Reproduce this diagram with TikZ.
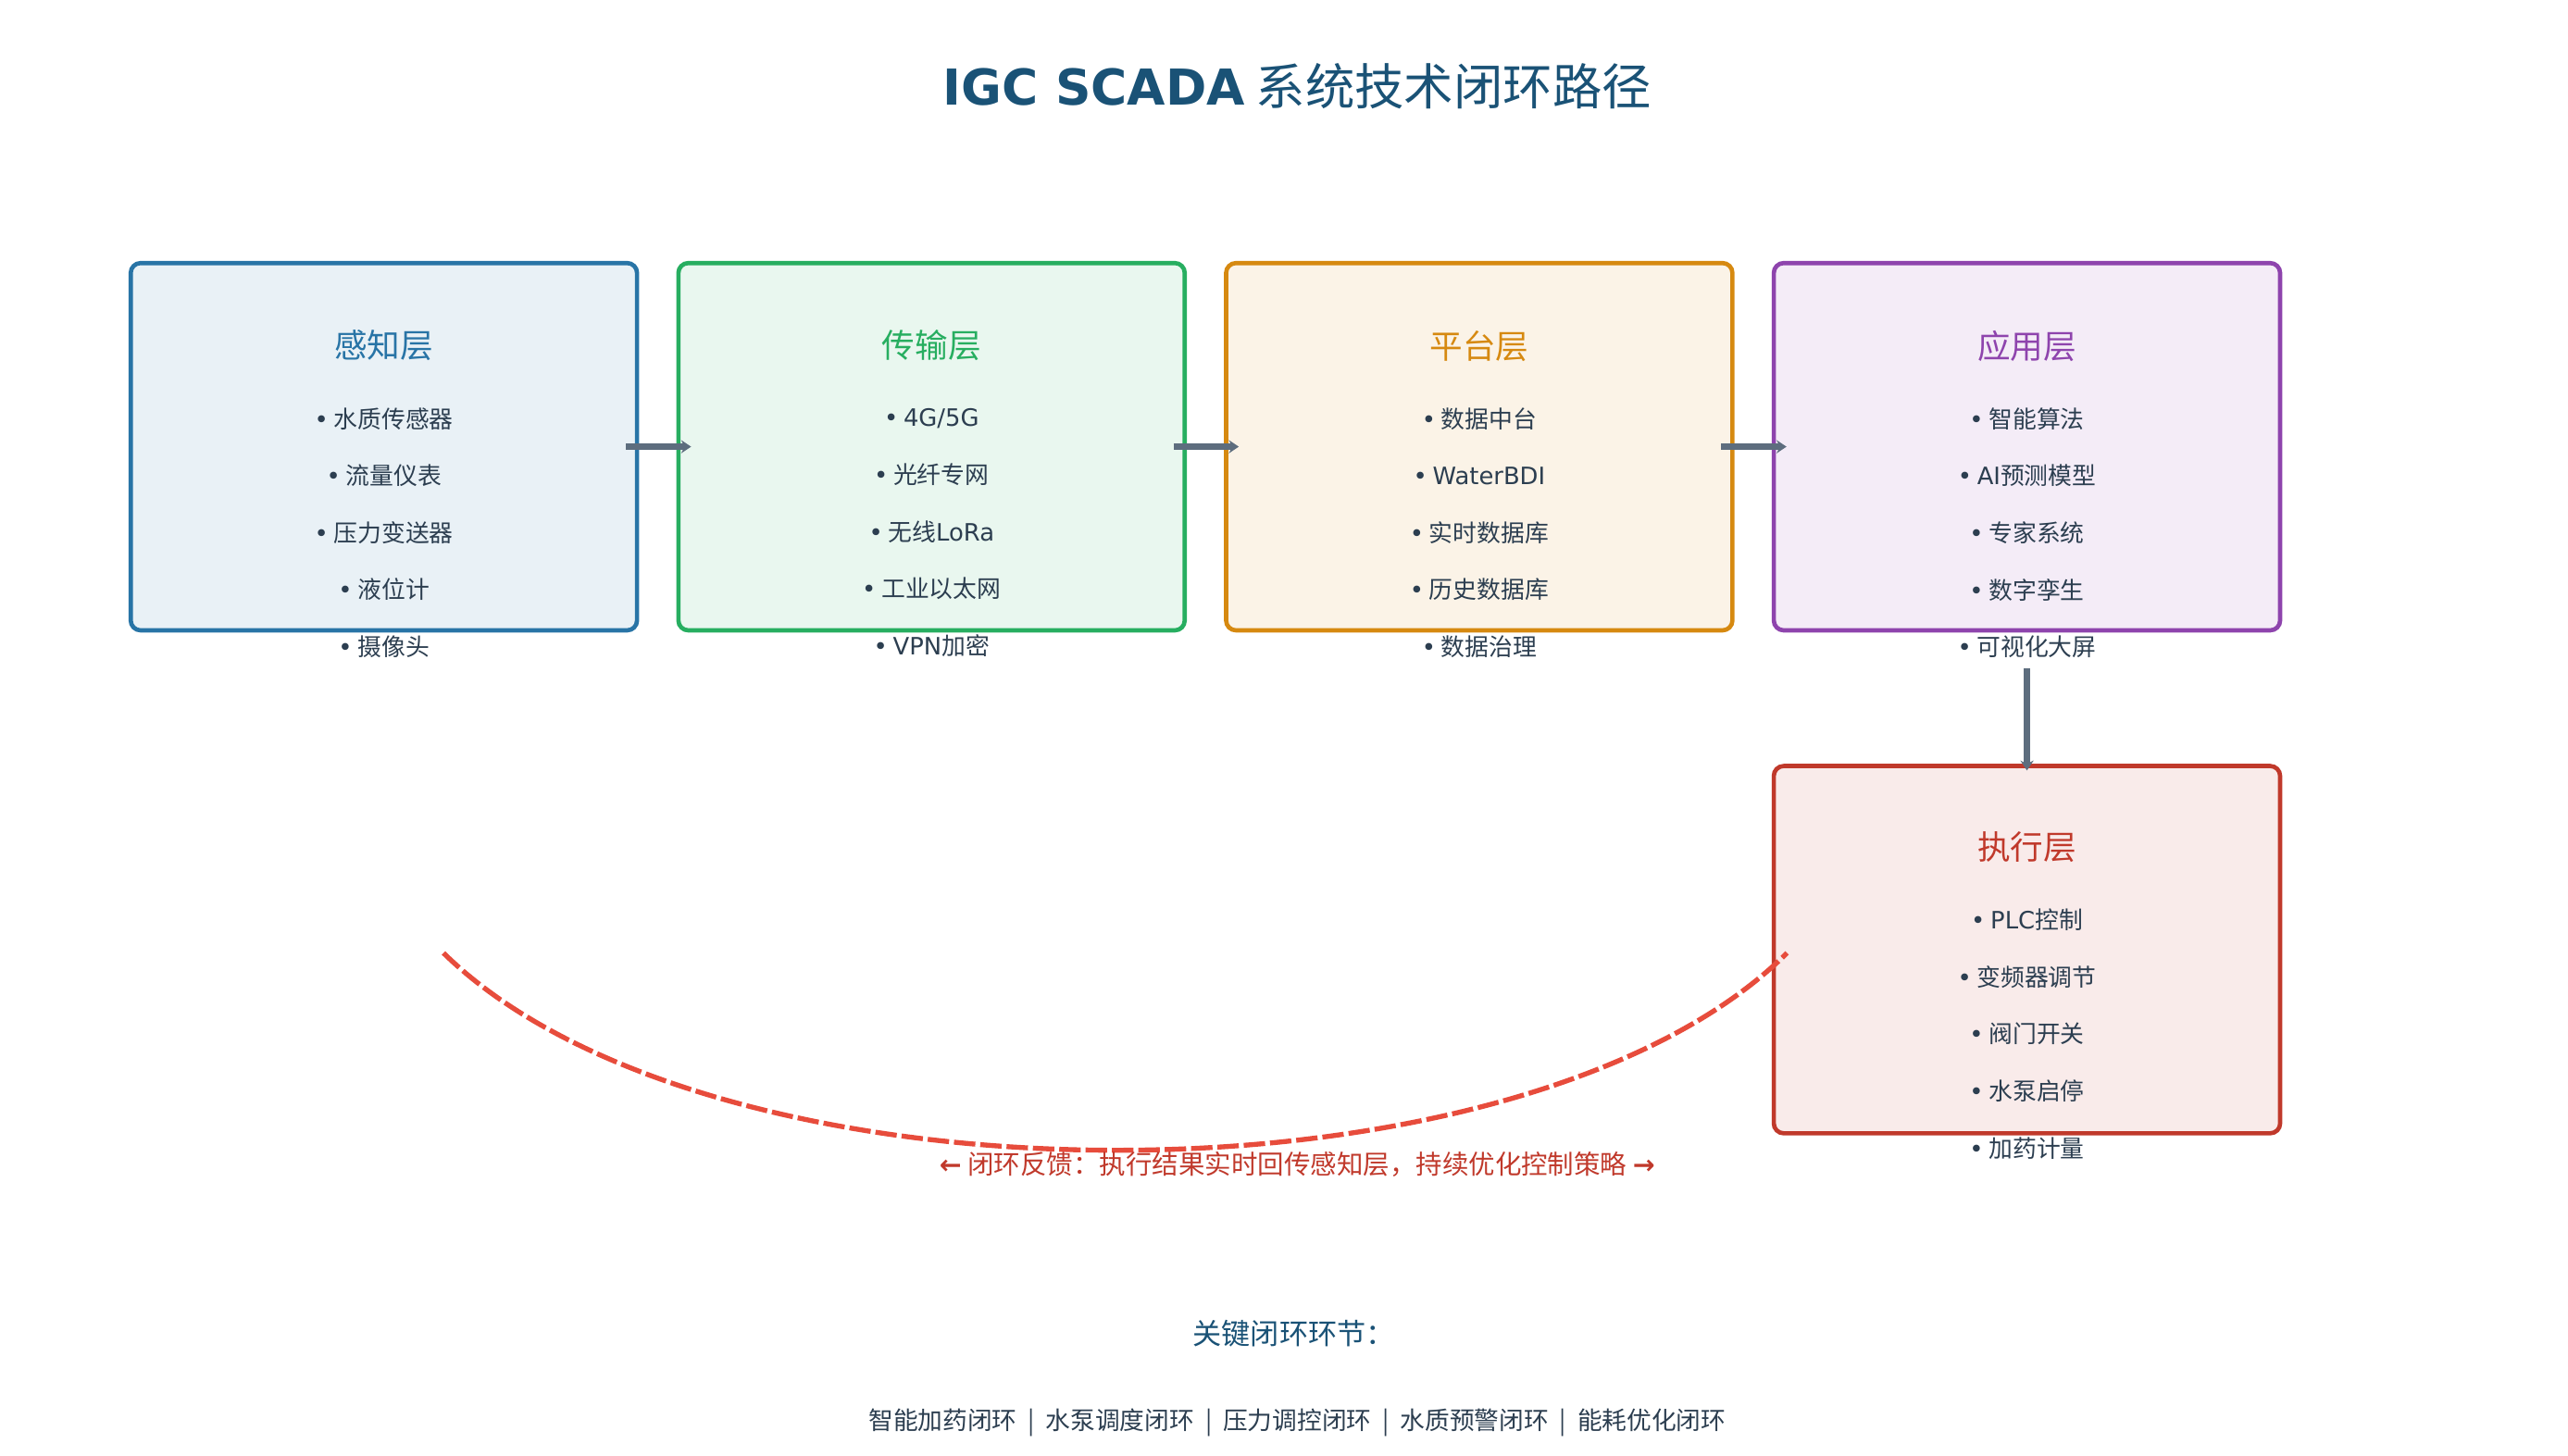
\documentclass[tikz,border=0pt]{standalone}
\usepackage{fontspec}
\setmainfont{Noto Sans CJK SC}
\newfontfamily\dvs{DejaVu Sans}
\usetikzlibrary{arrows.meta}
\definecolor{txt}{HTML}{2C3E50}
\definecolor{ttl}{HTML}{1A5276}
\definecolor{arr}{HTML}{5D6D7E}
\definecolor{fb}{HTML}{E74C3C}
\newcommand{\bul}{{\dvs •}\ }
\begin{document}
\begin{tikzpicture}[x=1bp,y=-1bp,
                layer/.style={draw=#1, fill=#1!10, line width=2.6pt, rounded corners=6pt, minimum width=306bp, minimum height=222bp},
                head/.style={text=#1, font=\fontsize{20}{24}\selectfont},
                items/.style={text=txt, align=center, font=\fontsize{14.5}{34.6}\selectfont},
                flow/.style={draw=arr, line width=3.5pt, -{Stealth[length=6pt,width=8pt]}}]
                \useasboundingbox (0,0) rectangle (1552,880);
                \definecolor{sense}{HTML}{2874A6}
                \definecolor{trans}{HTML}{27AE60}
                \definecolor{plat}{HTML}{D68910}
                \definecolor{appl}{HTML}{8E44AD}
                \definecolor{exec}{HTML}{C0392B}
                \node[font=\fontsize{30}{36}\selectfont, text=ttl] (title) at (784,52) {{\dvs\bfseries IGC SCADA} 系统技术闭环路径};
                \node[layer=sense] (b1) at (232,270) {};
                \node[layer=trans] (b2) at (563,270) {};
                \node[layer=plat] (b3) at (894,270) {};
                \node[layer=appl] (b4) at (1225,270) {};
                \node[layer=exec] (b5) at (1225,574) {};
                \node[head=sense] (h1) at (232,209) {感知层};
                \node[head=trans] (h2) at (563,209) {传输层};
                \node[head=plat] (h3) at (894,209) {平台层};
                \node[head=appl] (h4) at (1225,209) {应用层};
                \node[head=exec] (h5) at (1225,512) {执行层};
                \node[items] (l1) at (232,322) {\bul 水质传感器\\\bul 流量仪表\\\bul 压力变送器\\\bul 液位计\\\bul 摄像头};
                \node[items] (l2) at (563,322) {\bul {\dvs 4G/5G}\\\bul 光纤专网\\\bul 无线{\dvs LoRa}\\\bul 工业以太网\\\bul {\dvs VPN}加密};
                \node[items] (l3) at (894,322) {\bul 数据中台\\\bul {\dvs WaterBDI}\\\bul 实时数据库\\\bul 历史数据库\\\bul 数据治理};
                \node[items] (l4) at (1225,322) {\bul 智能算法\\\bul {\dvs AI}预测模型\\\bul 专家系统\\\bul 数字孪生\\\bul 可视化大屏};
                \node[items] (l5) at (1225,625) {\bul {\dvs PLC}控制\\\bul 变频器调节\\\bul 阀门开关\\\bul 水泵启停\\\bul 加药计量};
                \draw[flow, shorten <=-8pt, shorten >=-9pt] (b1.east) -- (b2.west);
                \draw[flow, shorten <=-8pt, shorten >=-9pt] (b2.east) -- (b3.west);
                \draw[flow, shorten <=-8pt, shorten >=-9pt] (b3.east) -- (b4.west);
                \draw[flow, shorten <=22pt, shorten >=-4pt] (b4.south) -- (b5.north);
                \coordinate (fbstart) at (1080,576);
                \coordinate (fbend) at (268,576);
                \draw[fb, line width=3pt, dash pattern=on 13pt off 3pt] (fbend) .. controls (430,735) and (920,735) .. (fbstart);
                \node[text=exec, font=\fontsize{16}{20}\selectfont] (fbtext) at (784,704) {{\dvs\bfseries ←} 闭环反馈：执行结果实时回传感知层，持续优化控制策略 {\dvs\bfseries →}};
                \node[text=ttl, font=\fontsize{17.5}{21}\selectfont] (key) at (782,806) {关键闭环环节：};
                \node[text=txt, font=\fontsize{15}{18}\selectfont] (loops) at (784,860) {智能加药闭环 \ | \ 水泵调度闭环 \ | \ 压力调控闭环 \ | \ 水质预警闭环 \ | \ 能耗优化闭环};
            \end{tikzpicture}
\end{document}
